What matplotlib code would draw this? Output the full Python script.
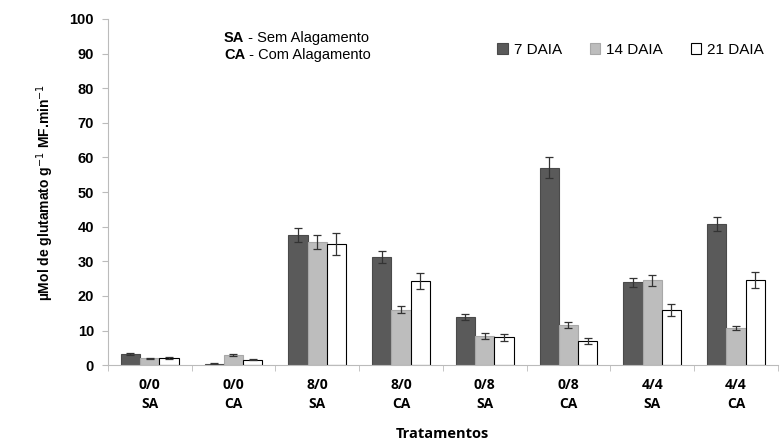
import numpy as np
import matplotlib
matplotlib.use("Agg")
from matplotlib import pyplot as plt

# Data
treatments = ["0/0\nSA", "0/0\nCA", "8/0\nSA", "8/0\nCA", "0/8\nSA", "0/8\nCA", "4/4\nSA", "4/4\nCA"]
series_names = ["7 DAIA", "14 DAIA", "21 DAIA"]
daia7 = [3.3, 0.4, 37.5, 31.3, 13.9, 57.0, 24.0, 40.7]
daia14 = [2.0, 3.0, 35.5, 16.0, 8.4, 11.7, 24.5, 10.8]
daia21 = [2.1, 1.6, 35.0, 24.2, 8.0, 7.0, 16.0, 24.5]
err7 = [0.3, 0.2, 2.0, 1.7, 0.8, 3.0, 1.3, 2.0]
err14 = [0.2, 0.3, 2.0, 1.0, 0.8, 0.9, 1.5, 0.6]
err21 = [0.2, 0.2, 3.3, 2.3, 0.9, 0.8, 1.7, 2.3]

fig = plt.figure(figsize=(7.81, 4.41), dpi=100)
ax = fig.add_axes([0.138, 0.172, 0.858, 0.785])

x = np.arange(len(treatments))
w = 0.23
values = [daia7, daia14, daia21]
errors = [err7, err14, err21]
faces = ["#5a5a5a", "#bdbdbd", "white"]
edges = ["#4a4a4a", "#a8a8a8", "black"]

for i in range(3):
    ax.bar(x + (i - 1) * w, values[i], w, color=faces[i], edgecolor=edges[i],
           linewidth=0.8, label=series_names[i],
           yerr=errors[i], error_kw=dict(ecolor="#333333", elinewidth=0.9, capsize=3, capthick=0.9))

ax.set_xlim(-0.5, len(treatments) - 0.5)
ax.set_ylim(0, 100)
ax.set_yticks(range(0, 101, 10))
ax.set_xticks(x)
ax.set_xticks(np.arange(-0.5, len(treatments), 1), minor=True)
ax.tick_params(axis="x", which="major", length=0, pad=9)
ax.tick_params(axis="x", which="minor", length=4, color="#bbbbbb")
ax.tick_params(axis="y", length=4, color="#bbbbbb", pad=6)
ax.set_xticklabels(treatments, fontfamily="Open Sans", fontweight="bold", fontsize=10, linespacing=1.45)
for lab in ax.get_yticklabels():
    lab.set_fontfamily("Liberation Sans")
    lab.set_fontweight("bold")
    lab.set_fontsize(10.5)

for side in ["top", "right"]:
    ax.spines[side].set_visible(False)
for side in ["left", "bottom"]:
    ax.spines[side].set_color("#bbbbbb")

ax.set_xlabel("Tratamentos", fontfamily="Open Sans", fontweight="bold", fontsize=10.5, labelpad=12)
ax.set_ylabel("µMol de glutamato g$^{-1}$ MF.min$^{-1}$", fontfamily="Liberation Sans",
              fontweight="bold", fontsize=10, labelpad=10)

leg = ax.legend(loc="upper right", bbox_to_anchor=(1.0, 0.97), ncol=3, frameon=False,
                prop={"family": "Liberation Sans", "size": 11},
                handlelength=0.7, handleheight=0.7, handletextpad=0.4, columnspacing=1.8)

# legend of abbreviations: bold code followed by plain description
for code, desc, ypx in [("SA", " - Sem Alagamento", 38), ("CA", " - Com Alagamento", 55)]:
    t = fig.text(224 / 781, 1 - ypx / 441, code, fontfamily="Liberation Sans",
                 fontweight="bold", fontsize=10.5, va="center")
    ax.annotate(desc, xy=(1, 0.5), xycoords=t, va="center", ha="left",
                fontfamily="Liberation Sans", fontsize=10.5)

fig.savefig("out.png", dpi=100)
